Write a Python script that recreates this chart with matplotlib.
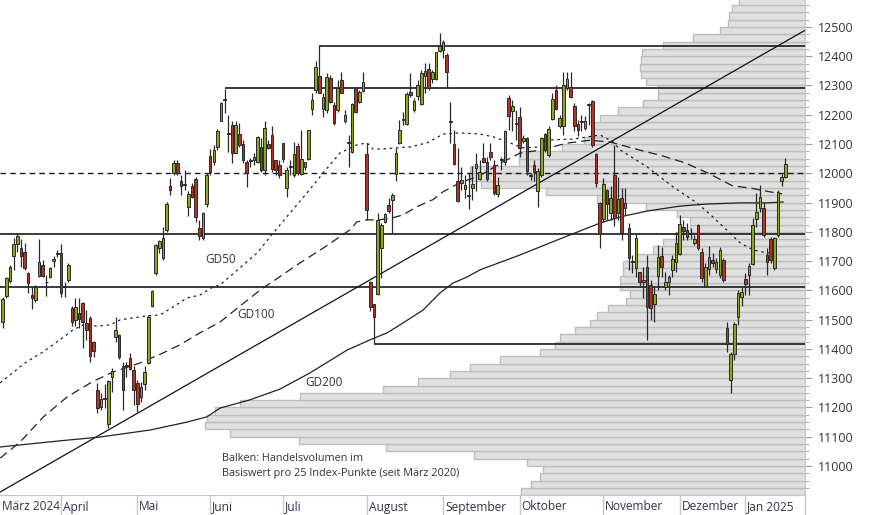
import matplotlib
matplotlib.use("Agg")
import matplotlib.pyplot as plt
import matplotlib.transforms as mtransforms
import numpy as np

# ---------------- data ----------------
opens = [11491,11581,11633,11719,11758,11744,11730,11661,11584,11567,
         11649,11687,11630,11647,11701,11725,11727,11612,11636,11541,
         11499,11524,11556,11488,11505,11423,11260,11203,11228,11144,
         11305,11440,11448,11340,11343,11368,11328,11283,11237,11280,
         11351,11547,11661,11746,11710,11807,11955,12002,12034,11975,
         11960,11886,11955,11981,11812,11778,11895,12060,12040,12089,
         12180,12250,12136,12165,12071,12134,12100,12040,12043,12046,
         12040,12089,12012,12100,12131,12046,12029,12103,11949,12023,
         11994,12094,11997,12021,12048,12219,12285,12333,12219,12217,
         12325,12234,12217,12319,12177,12105,12074,12291,12242,12280,
         12066,11628,11554,11587,11744,11835,11892,11909,11998,12105,
         12183,12169,12279,12217,12264,12237,12333,12355,12321,12321,
         12419,12421,12404,12176,12100,11972,11966,11946,11924,11950,
         12017,11980,12051,12040,12072,12029,11928,12047,12040,12256,
         12214,12170,12194,12110,12120,11990,12029,11938,11994,12134,
         12063,12185,12285,12160,12160,12291,12296,12230,12169,12176,
         12154,12234,12247,12066,11900,11844,11943,11863,11994,11866,
         11915,11880,11812,11700,11675,11662,11627,11679,11618,11554,
         11649,11718,11613,11627,11670,11696,11723,11818,11806,11792,
         11763,11824,11732,11616,11673,11704,11673,11653,11704,11470,
         11294,11383,11510,11576,11638,11653,11690,11844,11880,11880,
         11721,11775,11675,11789,11972,11986]
highs = [11579,11647,11687,11778,11795,11775,11761,11664,11613,11619,
         11776,11704,11653,11681,11718,11738,11758,11630,11693,11547,
         11575,11573,11562,11533,11513,11428,11283,11249,11279,11294,
         11334,11510,11450,11357,11357,11385,11340,11294,11288,11340,
         11516,11602,11759,11772,11818,11903,11983,12046,12046,11994,
         12012,11938,11966,11989,11841,11869,12000,12082,12095,12151,
         12245,12287,12199,12177,12177,12171,12114,12046,12051,12068,
         12128,12120,12177,12114,12160,12046,12046,12105,12023,12046,
         12108,12103,12148,12040,12148,12274,12382,12435,12273,12342,
         12336,12245,12319,12347,12216,12131,12239,12296,12285,12347,
         12103,11632,11554,11863,11829,11866,11916,11932,12085,12182,
         12211,12279,12342,12256,12319,12353,12376,12376,12353,12416,
         12478,12456,12410,12245,12148,12085,12023,11994,12000,12025,
         12068,12046,12103,12057,12103,12046,11989,12057,12148,12268,
         12250,12216,12228,12131,12123,12000,12046,12017,12125,12137,
         12160,12273,12302,12199,12347,12347,12347,12239,12182,12199,
         12196,12240,12251,12069,11903,11983,11945,11955,12095,11989,
         11949,11949,11831,11721,11795,11664,11681,11721,11635,11613,
         11755,11749,11664,11653,11721,11801,11858,11840,11829,11812,
         11789,11827,11744,11693,11750,11727,11710,11749,11710,11493,
         11390,11493,11601,11613,11658,11693,11846,11932,11960,11903,
         11744,11784,11784,11943,11999,12051]
lows = [11470,11573,11624,11670,11732,11681,11670,11592,11535,11562,
        11647,11647,11581,11641,11681,11715,11579,11579,11630,11479,
        11479,11470,11402,11431,11357,11374,11182,11192,11197,11129,
        11254,11425,11365,11192,11305,11328,11208,11186,11220,11260,
        11350,11542,11653,11727,11704,11801,11926,11994,11994,11926,
        11943,11854,11915,11832,11772,11772,11886,11994,12030,12080,
        12177,12205,12074,12034,12068,12091,12034,11952,12023,12029,
        12034,12006,11994,12082,12006,11994,11983,12040,11918,11994,
        11989,11994,11994,12012,12046,12199,12273,12273,12194,12205,
        12239,12165,12211,12273,12171,12023,12068,12205,12239,12278,
        11841,11530,11419,11585,11641,11829,11866,11795,11972,12100,
        12165,12165,12262,12211,12251,12233,12273,12285,12308,12319,
        12416,12393,12290,12102,12029,11903,11943,11915,11877,11909,
        11938,11977,12034,11972,12046,11926,11920,12011,12029,12148,
        12143,12114,12057,12103,11994,11977,11972,11886,11989,12074,
        12057,12182,12216,12154,12131,12285,12256,12143,12126,12143,
        12148,12165,12091,11954,11744,11835,11840,11840,11820,11840,
        11772,11858,11670,11658,11647,11613,11573,11431,11499,11493,
        11601,11647,11601,11584,11647,11664,11721,11772,11772,11775,
        11755,11738,11630,11613,11653,11680,11659,11641,11630,11391,
        11248,11362,11482,11545,11584,11584,11687,11818,11869,11784,
        11653,11692,11670,11784,11955,11983]
closes = [11571,11641,11681,11758,11786,11719,11676,11624,11575,11613,
          11698,11649,11627,11676,11706,11727,11592,11614,11687,11493,
          11542,11501,11493,11463,11376,11394,11197,11228,11229,11292,
          11325,11465,11371,11258,11342,11331,11260,11212,11271,11322,
          11510,11597,11754,11767,11778,11895,11943,12034,12002,11957,
          11962,11928,11918,11852,11786,11866,11994,12006,12080,12145,
          12239,12252,12134,12071,12165,12097,12046,12002,12044,12057,
          12123,12012,12154,12086,12014,12012,11994,12048,12012,12024,
          12066,12000,12048,12038,12148,12251,12362,12276,12260,12328,
          12245,12171,12291,12276,12199,12106,12237,12211,12279,12312,
          11873,11542,11508,11841,11824,11861,11871,11926,12069,12148,
          12185,12271,12268,12247,12302,12344,12351,12290,12347,12413,
          12435,12449,12345,12177,12031,11907,11977,11960,11925,11962,
          12031,12006,12040,11980,12057,11932,11960,12049,12146,12196,
          12230,12172,12086,12119,12009,11992,12006,12008,12122,12080,
          12152,12253,12219,12189,12302,12321,12260,12162,12148,12178,
          12179,12233,12097,11966,11793,11964,11895,11915,11846,11911,
          11795,11900,11710,11697,11778,11630,11636,11542,11539,11588,
          11715,11679,11627,11645,11707,11761,11827,11804,11781,11794,
          11776,11745,11641,11679,11713,11693,11696,11738,11636,11417,
          11382,11485,11590,11596,11622,11683,11824,11869,11920,11789,
          11698,11704,11778,11937,11986,12032]

# moving averages (at sample days)
gd50_day = [-0.7, 6.1, 11.1, 15.7, 19.3, 22.1, 25.9, 29.5, 32.2, 35.8, 39.6,
            43.2, 46.8, 50.6, 54.2, 57.8, 59.7, 69.9, 74.3, 78.9, 83.6, 88.0,
            92.7, 97.3, 100.1, 101.7, 104.5, 108.3, 111.9, 116.6, 121.0, 125.6,
            131.1, 134.7, 138.5, 142.9, 147.6, 150.4, 156.7, 160.5, 164.1, 167.7,
            169.6, 177.0, 184.2, 190.7, 195.1, 198.9, 202.6, 206.2, 209.9, 213.5]
gd50_val = [11284, 11352, 11390, 11431, 11465, 11482, 11478, 11482, 11499, 11506,
            11513, 11516, 11543, 11574, 11584, 11612, 11618, 11728, 11796, 11864,
            11933, 12001, 12070, 12097, 12104, 12083, 12083, 12087, 12090, 12104,
            12134, 12138, 12134, 12125, 12108, 12087, 12090, 12114, 12117, 12124,
            12131, 12107, 12080, 12022, 11953, 11899, 11851, 11806, 11762, 11738,
            11728, 11728]
gd100_day = [-0.7, 3.1, 5.3, 11.1, 17.7, 24.5, 30.3, 37.7, 44.0, 48.7, 54.2,
             59.7, 70.7, 81.7, 88.6, 95.4, 97.3, 100.1, 103.5, 107.2, 110.0, 113.8,
             118.2, 121.0, 125.6, 131.1, 137.3, 142.1, 147.6, 155.0, 161.3, 166.8,
             175.1, 181.4, 187.6, 194.2, 200.5, 205.2, 210.6, 214.1]
gd100_val = [11027, 11065, 11089, 11167, 11236, 11287, 11321, 11352, 11386, 11414,
             11455, 11492, 11601, 11694, 11749, 11807, 11834, 11841, 11841, 11848,
             11858, 11886, 11910, 11937, 11968, 11992, 12038, 12069, 12079, 12103,
             12113, 12107, 12079, 12059, 12035, 11998, 11957, 11950, 11937, 11930]
gd200_day = [-0.7, 15.7, 26.7, 40.5, 50.6, 56.1, 59.7, 67.9, 76.2, 84.4, 94.6,
             100.9, 105.6, 110.0, 115.5, 120.1, 123.7, 127.6, 131.1, 142.1, 152.3,
             164.1, 169.6, 177.0, 186.1, 193.5, 202.6, 210.0, 214.4]
gd200_val = [11065, 11086, 11099, 11123, 11150, 11168, 11198, 11226, 11263, 11318,
             11396, 11431, 11455, 11489, 11533, 11591, 11625, 11646, 11670, 11721,
             11772, 11830, 11851, 11871, 11888, 11895, 11899, 11899, 11902]

# volume profile: trading volume per 25 index points (bin lower edges)
vol_bins = list(range(10900, 12600, 25))
vol = [284, 274, 265, 262, 278, 331, 419, 506, 575, 600,
       598, 590, 565, 505, 422, 387, 355, 335, 305, 265,
       250, 245, 230, 215, 208, 197, 179, 175, 185, 185,
       182, 182, 168, 152, 142, 129, 115, 115, 128, 159,
       208, 259, 324, 335, 335, 286, 286, 243, 221, 213,
       211, 205, 187, 162, 147, 147, 159, 164, 165, 164,
       163, 142, 112, 85, 77, 76, 73, 66]

# support / resistance levels: (start day, level)
levels = [(87, 12435), (61, 12290), (-1, 11793), (-1, 11612), (102, 11417)]
dashed_level = 12000
trend_days = [29, 215]
trend_vals = [11123, 12450]

month_labels = ["März 2024", "April", "Mai", "Juni", "Juli", "August",
                "September", "Oktober", "November", "Dezember", "Jan 2025"]
month_start = [-1, 17, 38, 58, 78, 101, 122, 143, 166, 187, 205]

# ---------------- figure ----------------
W, H = 874, 515
fig = plt.figure(figsize=(W / 100, H / 100), dpi=100)
plt.rcParams['font.family'] = ['Open Sans', 'DejaVu Sans']
pos = [0, 20 / H, 805 / W, 495 / H]
ax_v = fig.add_axes(pos)
ax = fig.add_axes(pos, sharey=ax_v)
ax.patch.set_alpha(0)
ax.set_zorder(ax_v.get_zorder() + 1)

ymin, ymax = 10901, 12592
ax_v.set_ylim(ymin, ymax)
ax_v.set_xlim(805, 0)
ax_v.barh(vol_bins, vol, height=25, align='edge', left=0,
          color='#e0e0e0', edgecolor='#bdbdbd', linewidth=1.0)
ax_v.axis('off')

n = len(opens)
days = np.arange(n)
xmin, xmax = -0.74, 220.4
ax.set_xlim(xmin, xmax)

# horizontal levels
for d0, lv in levels:
    ax.plot([max(d0, xmin), xmax], [lv, lv], color='#1a1a1a', lw=1.2, zorder=2,
            solid_capstyle='butt')
ax.plot([xmin, xmax], [dashed_level, dashed_level], color='#1a1a1a', lw=1.0,
        dashes=(4, 3), zorder=2)

# trend line extended over full width
slope = (trend_vals[1] - trend_vals[0]) / (trend_days[1] - trend_days[0])
tx = np.array([xmin, xmax])
ax.plot(tx, trend_vals[0] + slope * (tx - trend_days[0]), color='#111111', lw=0.9, zorder=2)

# moving averages
ax.plot(gd50_day, gd50_val, color='#222222', lw=0.9, dashes=(2, 3), zorder=2)
ax.plot(gd100_day, gd100_val, color='#222222', lw=0.9, dashes=(7, 4), zorder=2)
ax.plot(gd200_day, gd200_val, color='#222222', lw=0.9, zorder=2)

# candles
o = np.array(opens, float); c = np.array(closes, float)
hi = np.array(highs, float); lo = np.array(lows, float)
up = c >= o
ax.vlines(days, lo, hi, color='#2a2a2a', lw=0.9, zorder=3)
body_lo = np.minimum(o, c)
body_h = np.maximum(np.abs(c - o), 3)
ax.bar(days[up], body_h[up], bottom=body_lo[up], width=0.72, color='#8ea51f',
       edgecolor='#2a2a2a', linewidth=0.7, zorder=4)
ax.bar(days[~up], body_h[~up], bottom=body_lo[~up], width=0.72, color='#b5341f',
       edgecolor='#2a2a2a', linewidth=0.7, zorder=4)

# labels of the averages
ax.text(55.6, 11704, "GD50", fontsize=8.5, color='#333333', va='center', ha='left')
ax.text(64.4, 11519, "GD100", fontsize=8.5, color='#333333', va='center', ha='left')
ax.text(83.1, 11284, "GD200", fontsize=8.5, color='#333333', va='center', ha='left')
ax.text(60.3, 11027, "Balken: Handelsvolumen im", fontsize=7.8, color='#333333',
        va='center', ha='left')
ax.text(60.3, 10976, "Basiswert pro 25 Index-Punkte (seit März 2020)", fontsize=7.8,
        color='#333333', va='center', ha='left')

# axes styling
for s in ['top', 'left']:
    ax.spines[s].set_visible(False)
ax.spines['right'].set_color('#c8c8c8')
ax.spines['bottom'].set_color('#c8c8c8')
ax.yaxis.tick_right()
ax.set_yticks(np.arange(11000, 12501, 100))
ax.set_yticks(np.arange(10925, 12576, 25), minor=True)
ax.tick_params(axis='y', which='major', length=5, color='#a0a0a0', labelsize=9,
               labelcolor='#333333', pad=4)
ax.tick_params(axis='y', which='minor', length=3.2, color='#a0a0a0')
ax.set_xticks([])

# month labels and separators
blend = mtransforms.blended_transform_factory(ax.transData, ax.transAxes)
for lab, ms in zip(month_labels, month_start):
    sep = ms - 1.0
    if sep > xmin:
        ax.plot([sep, sep], [0, -20 / 495], transform=blend, color='#c8c8c8',
                lw=1.0, clip_on=False)
    ax.text(max(sep, xmin) + 0.5, -12 / 495, lab, transform=blend, fontsize=8.6,
            color='#34304a', ha='left', va='center')
ax.plot([xmax, xmax], [0, -20 / 495], transform=blend, color='#c8c8c8', lw=1.0,
        clip_on=False)

fig.savefig("out.png", dpi=100)
